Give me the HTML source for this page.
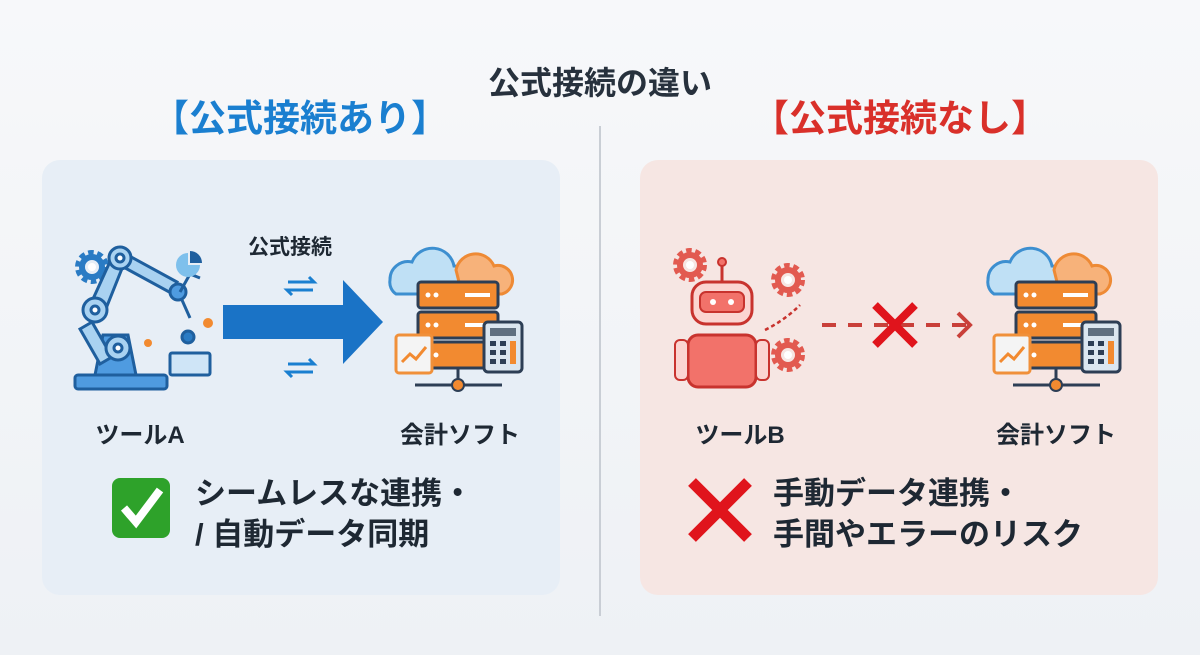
<!DOCTYPE html>
<html><head><meta charset="utf-8"><style>
body{margin:0;width:1200px;height:655px;overflow:hidden;background:linear-gradient(180deg,#f7f8fa,#eef1f5);font-family:"Liberation Sans","Noto Sans CJK JP",sans-serif;position:relative}
.a{position:absolute;white-space:nowrap;font-weight:bold}
.p{position:absolute;border-radius:18px}
</style></head><body>
<div class="a" style="left:0;width:1200px;text-align:center;top:58px;font-size:32px;color:#27313d">公式接続の違い</div>
<div class="a" style="left:100px;width:400px;text-align:center;top:88px;font-size:37px;color:#1a7fd0">【公式接続あり】</div>
<div class="a" style="left:700px;width:400px;text-align:center;top:88px;font-size:37px;color:#d9302a">【公式接続なし】</div>
<div style="position:absolute;left:599px;top:126px;width:2px;height:490px;background:#c9ced5"></div>
<div class="p" style="left:42px;top:160px;width:518px;height:435px;background:#e7eef6"></div>
<div class="p" style="left:640px;top:160px;width:518px;height:435px;background:#f6e6e3"></div>

<svg width="1200" height="655" style="position:absolute;left:0;top:0">
<defs>
<g id="srv">
 <path d="M0 40 a18 18 0 0 1 22-18 a22 22 0 0 1 42 4 a14 14 0 0 1 0 28 h-58 a14 14 0 0 1 -6-14z" fill="#bfe0f5" stroke="#3d8fd0" stroke-width="3"/>
 <path d="M66 30 a20 20 0 0 1 38-4 a14 14 0 0 1 8 28 h-40z" fill="#f7b27a" stroke="#ee8a35" stroke-width="3"/>
 <rect x="28" y="42" width="80" height="26" rx="3" fill="#f28a30" stroke="#2d3e55" stroke-width="3"/>
 <rect x="28" y="72" width="80" height="26" rx="3" fill="#f28a30" stroke="#2d3e55" stroke-width="3"/>
 <rect x="28" y="102" width="80" height="26" rx="3" fill="#f28a30" stroke="#2d3e55" stroke-width="3"/>
 <g fill="#fff"><circle cx="38" cy="55" r="2.5"/><circle cx="46" cy="55" r="2.5"/><circle cx="38" cy="85" r="2.5"/><circle cx="46" cy="85" r="2.5"/><circle cx="38" cy="115" r="2.5"/><circle cx="46" cy="115" r="2.5"/>
 <rect x="75" y="53" width="25" height="4"/><rect x="75" y="83" width="25" height="4"/></g>
 <line x1="68" y1="128" x2="68" y2="145" stroke="#2d3e55" stroke-width="3"/>
 <line x1="25" y1="145" x2="112" y2="145" stroke="#2d3e55" stroke-width="3"/>
 <circle cx="68" cy="145" r="6" fill="#f28a30" stroke="#2d3e55" stroke-width="2"/>
 <rect x="6" y="95" width="36" height="38" rx="3" fill="#f4f4f4" stroke="#f0903a" stroke-width="3"/>
 <path d="M12 122 l8-8 6 5 10-12" stroke="#f28a30" stroke-width="3" fill="none"/>
 <rect x="94" y="82" width="38" height="50" rx="4" fill="#dbe6f0" stroke="#2d3e55" stroke-width="3"/>
 <rect x="100" y="88" width="26" height="8" fill="#5f6f80"/>
 <g fill="#2d3e55"><rect x="100" y="101" width="6" height="5"/><rect x="110" y="101" width="6" height="5"/><rect x="100" y="110" width="6" height="5"/><rect x="110" y="110" width="6" height="5"/><rect x="100" y="119" width="6" height="5"/><rect x="110" y="119" width="6" height="5"/></g>
 <rect x="120" y="101" width="6" height="23" fill="#f28a30"/>
</g>
<g id="gear"><circle r="13" fill="none" stroke-width="8" stroke-dasharray="5 3.2"/><circle r="10" fill="none" stroke-width="6"/><circle r="4" fill="#fff" stroke="none"/></g>
</defs>
<g stroke="#1f5f9e" stroke-width="3">
 <use href="#gear" x="92" y="267" style="stroke:#2a7bc4"/>
 <rect x="75" y="375" width="92" height="14" rx="3" fill="#4f9be0"/>
 <path d="M95 375 l8-40 h25 l8 40z" fill="#4f9be0"/>
 <path d="M88 310 l25-55 l12 6 l-22 55z" fill="#a9d2f1"/>
 <path d="M92 322 l20 35 l-12 7 l-20-35z" fill="#a9d2f1"/>
 <path d="M122 252 l55 30 l-6 11 l-55-30z" fill="#a9d2f1"/>
 <circle cx="95" cy="310" r="12" fill="#a9d2f1"/><circle cx="95" cy="310" r="4" fill="#fff"/>
 <circle cx="120" cy="258" r="11" fill="#a9d2f1"/><circle cx="120" cy="258" r="4" fill="#fff"/>
 <circle cx="118" cy="348" r="12" fill="#a9d2f1"/><circle cx="118" cy="348" r="4" fill="#fff"/>
 <circle cx="178" cy="292" r="8" fill="#4f9be0"/>
 <path d="M180 292 l10-18 l10 4 M182 300 l8 18" fill="none"/>
 <rect x="170" y="353" width="40" height="22" rx="2" fill="#cfe5f7"/>
 <circle cx="188" cy="337" r="6" fill="#2a7bc4"/>
</g>
<path d="M188 253 a12 12 0 1 0 12 12 h-12z" fill="#7ec0ec"/><path d="M190 251 v12 h12 a12 12 0 0 0 -12 -12z" fill="#1f5f9e"/>
<circle cx="208" cy="323" r="5" fill="#f28a30"/><circle cx="148" cy="343" r="4" fill="#f28a30"/>
<path d="M223 305 h120 v-25 l40 42 l-40 42 v-25 h-120z" fill="#1a73c6"/>
<g stroke="#1a7fd0" stroke-width="3" fill="none">
 <path d="M288 282 h26 l-5-5 M313 290 h-26 l5 5"/>
 <path d="M288 364 h26 l-5-5 M313 372 h-26 l5 5"/>
</g>
<use href="#srv" x="390" y="240"/>
<use href="#srv" x="988" y="240"/>
<g stroke="#c8332e" fill="#f2726a">
 <use href="#gear" x="690" y="265" style="stroke:#e25a50"/>
 <use href="#gear" x="788" y="280" style="stroke:#e25a50"/>
 <use href="#gear" x="788" y="355" style="stroke:#e25a50"/>
 <line x1="722" y1="262" x2="722" y2="282" stroke-width="3"/><circle cx="722" cy="262" r="4" stroke-width="2"/>
 <rect x="692" y="282" width="60" height="42" rx="14" fill="#fbd5d1" stroke-width="3"/>
 <rect x="700" y="292" width="44" height="20" rx="6" stroke-width="2"/>
 <rect x="688" y="335" width="68" height="52" rx="10" stroke-width="3"/>
 <rect x="675" y="340" width="13" height="40" rx="5" fill="#fbd5d1" stroke-width="2"/>
 <rect x="756" y="340" width="13" height="40" rx="5" fill="#fbd5d1" stroke-width="2"/>
</g>
<circle cx="713" cy="302" r="3" fill="#fff"/><circle cx="731" cy="302" r="3" fill="#fff"/>
<path d="M765 330 q20-10 35-25" stroke="#c8332e" stroke-width="2.5" stroke-dasharray="4 3" fill="none"/>
<g stroke="#c9403a" stroke-width="4" fill="none"><path d="M822 325 h150" stroke-dasharray="14 12"/><path d="M958 313 l12 12 l-12 12"/></g>
<path d="M875 305 l40 40 M915 305 l-40 40" stroke="#e0141c" stroke-width="8"/>
<rect x="112" y="478" width="58" height="60" rx="8" fill="#2ea22a"/>
<path d="M124 508 l12 14 l24-32" stroke="#fff" stroke-width="8" fill="none"/>
<path d="M692 482 l56 56 M748 482 l-56 56" stroke="#e0141c" stroke-width="11"/>
</svg>
<div class="a" style="left:248px;top:231px;font-size:21px;color:#1e2833">公式接続</div>
<div class="a" style="left:80px;width:120px;text-align:center;top:415px;font-size:24px;color:#1e2833">ツールA</div>
<div class="a" style="left:385px;width:150px;text-align:center;top:415px;font-size:24px;color:#1e2833">会計ソフト</div>
<div class="a" style="left:680px;width:120px;text-align:center;top:415px;font-size:24px;color:#1e2833">ツールB</div>
<div class="a" style="left:981px;width:150px;text-align:center;top:415px;font-size:24px;color:#1e2833">会計ソフト</div>
<div class="a" style="left:195px;top:473px;font-size:31px;line-height:41px;color:#1e2833">シームレスな連携・<br>/ 自動データ同期</div>
<div class="a" style="left:773px;top:473px;font-size:31px;line-height:41px;color:#1e2833">手動データ連携・<br>手間やエラーのリスク</div>
</body></html>
